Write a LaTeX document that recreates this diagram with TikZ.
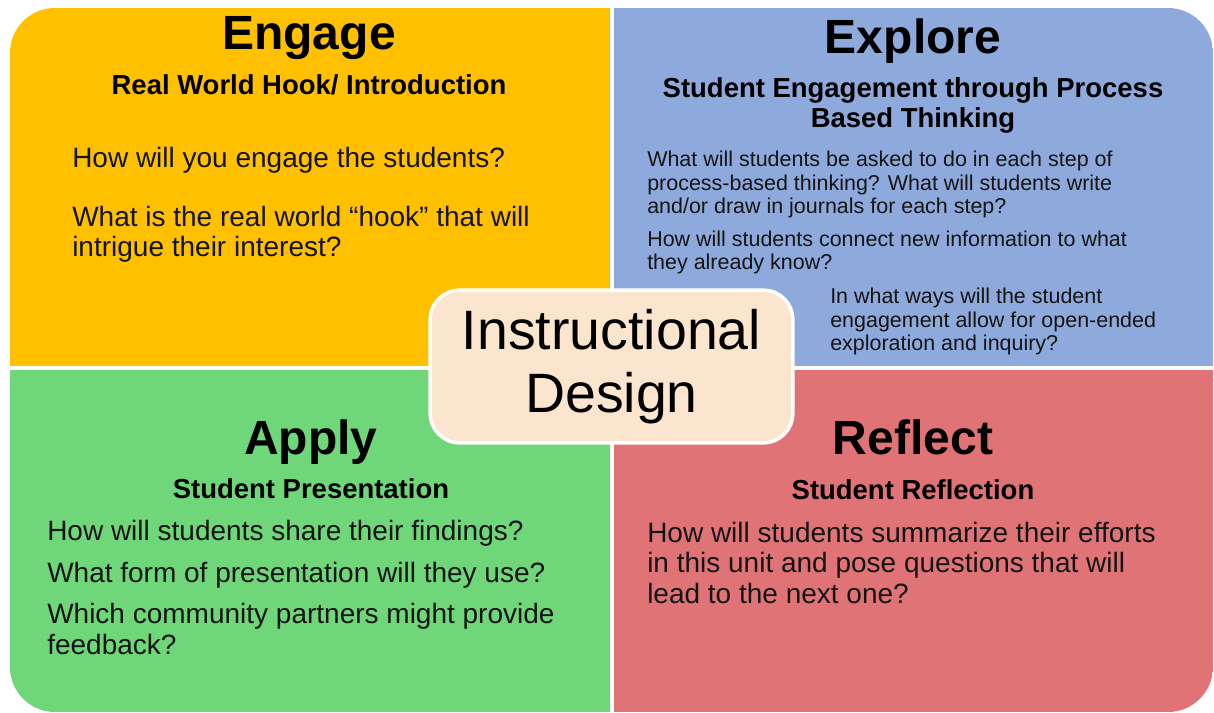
\documentclass[tikz,border=0pt]{standalone}
\usepackage{fontspec}
\setmainfont{Liberation Sans}
\usepackage{xcolor}
\usepackage{tikz}

\definecolor{engageyellow}{RGB}{255,192,0}
\definecolor{exploreblue}{RGB}{142,169,219}
\definecolor{applygreen}{RGB}{111,214,122}
\definecolor{reflectred}{RGB}{224,115,118}
\definecolor{designcream}{RGB}{252,229,206}
\definecolor{inkblack}{RGB}{20,20,20}

\begin{document}
\begin{tikzpicture}[x=0.75pt,y=0.75pt,yscale=-1,xscale=1,
  headline/.style={anchor=base,inner sep=0pt,text=black,font=\fontsize{36}{36}\selectfont\bfseries},
  subhead/.style={anchor=base,inner sep=0pt,align=center,text=black,font=\fontsize{20.6}{22.5}\selectfont\bfseries},
  question/.style={anchor=base west,inner sep=0pt,align=left,text=inkblack,font=\fontsize{21}{23}\selectfont},
  smallquestion/.style={anchor=base west,inner sep=0pt,align=left,text=inkblack,font=\fontsize{16.1}{17.5}\selectfont}]

%Shape: Background [id:bg]
\fill[white] (0,0) rectangle (1214,713);

%Shape: Quadrants clipped to outer rounded rectangle
\begin{scope}
\clip[rounded corners=33.75pt] (10,8) rectangle (1213,712);
\fill[engageyellow] (10,8) rectangle (610,366);
\fill[exploreblue] (613.5,8) rectangle (1213,366);
\fill[applygreen] (10,369.5) rectangle (610,712);
\fill[reflectred] (613.5,369.5) rectangle (1213,712);
\end{scope}

% Engage (multi-line nodes sit on their last baseline)
\draw (309,50) node [headline] (engage) {Engage};
\draw (309,95) node [subhead] (engagesub) {Real World Hook/ Introduction};
\draw (72,168) node [question] (engageq1) {How will you engage the students?};
\draw (72,257) node [question] (engageq2) {What is the real world “hook” that will\\intrigue their interest?};

% Explore
\draw (913,54) node [headline] (explore) {Explore};
\draw (913,128) node [subhead] (exploresub) {Student Engagement through Process\\Based Thinking};
\draw (647,213.5) node [smallquestion] (exploreq1) {What will students be asked to do in each step of\\process-based thinking? What will students write\\and/or draw in journals for each step?};
\draw (647,269.5) node [smallquestion] (exploreq2) {How will students connect new information to what\\they already know?};
\draw (830,350.5) node [smallquestion] (exploreq3) {In what ways will the student\\engagement allow for open-ended\\exploration and inquiry?};

% Apply
\draw (311,454) node [headline] (apply) {Apply};
\draw (311,498) node [subhead] (applysub) {Student Presentation};
\draw (47,540) node [question] (applyq1) {How will students share their findings?};
\draw (47,582) node [question] (applyq2) {What form of presentation will they use?};
\draw (47,654) node [question] (applyq3) {Which community partners might provide\\feedback?};

% Reflect
\draw (913,454) node [headline] (reflect) {Reflect};
\draw (913,499) node [subhead] (reflectsub) {Student Reflection};
\draw (647,603.5) node [question] (reflectq1) {How will students summarize their efforts\\in this unit and pose questions that will\\lead to the next one?};

%Shape: Center box
\node [draw=white, fill=designcream, line width=2.6pt, rounded corners=22pt, minimum width=272pt, minimum height=114.5pt, inner sep=0pt, align=center, text=black, font=\fontsize{41.6}{47.25}\selectfont] (design) at (611.5,366.5) {Instructional\\Design};
\end{tikzpicture}
\end{document}
